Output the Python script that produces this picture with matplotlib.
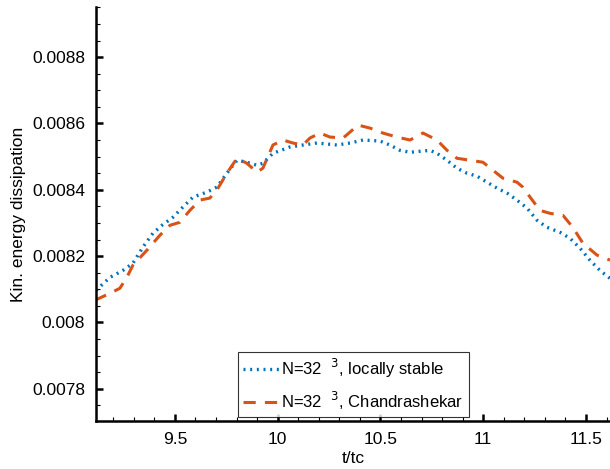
import matplotlib
matplotlib.use("Agg")
import matplotlib.pyplot as plt
from matplotlib.ticker import MultipleLocator, FixedLocator

plt.rcParams['font.family'] = ['Liberation Sans', 'DejaVu Sans']

# Locally stable scheme
t_stable = [9.116, 9.184, 9.247, 9.296, 9.344, 9.393, 9.437, 9.490, 9.539, 9.588,
            9.656, 9.704, 9.753, 9.802, 9.850, 9.899, 9.928, 9.977, 10.060, 10.123,
            10.191, 10.288, 10.352, 10.415, 10.498, 10.546, 10.595, 10.644, 10.692, 10.741,
            10.775, 10.824, 10.872, 10.921, 10.970, 11.018, 11.067, 11.116, 11.164, 11.213,
            11.262, 11.310, 11.373, 11.422, 11.471, 11.519, 11.568, 11.617]
eps_stable = [0.008097, 0.008136, 0.008157, 0.008179, 0.008227, 0.008269, 0.008293, 0.008317,
              0.008348, 0.008378, 0.008393, 0.008408, 0.008450, 0.008489, 0.008483, 0.008474,
              0.008480, 0.008510, 0.008529, 0.008535, 0.008541, 0.008535, 0.008541, 0.008550,
              0.008547, 0.008535, 0.008519, 0.008513, 0.008516, 0.008519, 0.008510, 0.008489,
              0.008465, 0.008450, 0.008441, 0.008423, 0.008405, 0.008390, 0.008369, 0.008345,
              0.008308, 0.008287, 0.008272, 0.008254, 0.008224, 0.008188, 0.008157, 0.008133]

# Chandrashekar scheme
t_chandra = [9.111, 9.184, 9.232, 9.266, 9.296, 9.364, 9.427, 9.476, 9.524, 9.573,
             9.622, 9.670, 9.704, 9.753, 9.802, 9.850, 9.899, 9.928, 9.977, 10.026,
             10.074, 10.123, 10.157, 10.206, 10.254, 10.318, 10.352, 10.391, 10.449, 10.512,
             10.580, 10.644, 10.707, 10.775, 10.824, 10.872, 10.936, 10.999, 11.047, 11.096,
             11.164, 11.193, 11.228, 11.276, 11.325, 11.388, 11.436, 11.485, 11.554, 11.617]
eps_chandra = [0.008067, 0.008088, 0.008103, 0.008136, 0.008173, 0.008218, 0.008263, 0.008293,
               0.008302, 0.008338, 0.008369, 0.008375, 0.008399, 0.008450, 0.008495, 0.008480,
               0.008453, 0.008465, 0.008535, 0.008550, 0.008541, 0.008535, 0.008556, 0.008571,
               0.008559, 0.008556, 0.008574, 0.008595, 0.008586, 0.008571, 0.008559, 0.008550,
               0.008571, 0.008550, 0.008519, 0.008495, 0.008489, 0.008483, 0.008459, 0.008435,
               0.008423, 0.008408, 0.008378, 0.008338, 0.008329, 0.008323, 0.008287, 0.008239,
               0.008203, 0.008188]

x_ticks = [9.5, 10, 10.5, 11, 11.5]
x_tick_labels = ['9.5', '10', '10.5', '11', '11.5']
y_ticks = [0.0078, 0.008, 0.0082, 0.0084, 0.0086, 0.0088]
y_tick_labels = ['0.0078', '0.008', '0.0082', '0.0084', '0.0086', '0.0088']

fig = plt.figure(figsize=(6.10, 4.69), dpi=100)
ax = fig.add_axes([96 / 610, 48 / 469, 1 - 96 / 610, (421 - 7) / 469])

ax.plot(t_stable, eps_stable, linestyle=(0, (0.6, 1.4)), color='#0072BD', lw=2.4,
        label='N=32  $^{3}$, locally stable')
ax.plot(t_chandra, eps_chandra, linestyle=(0, (4, 3)), color='#D95319', lw=2.2,
        label='N=32  $^{3}$, Chandrashekar')

ax.set_xlim(9.116, 11.617)
ax.set_ylim(0.007703, 0.008951)
ax.xaxis.set_major_locator(FixedLocator(x_ticks))
ax.set_xticklabels(x_tick_labels)
ax.yaxis.set_major_locator(FixedLocator(y_ticks))
ax.set_yticklabels(y_tick_labels)
ax.xaxis.set_minor_locator(MultipleLocator(0.1))
ax.yaxis.set_minor_locator(MultipleLocator(0.00005))

for side in ('top', 'right'):
    ax.spines[side].set_visible(False)
for side in ('left', 'bottom'):
    ax.spines[side].set_linewidth(1.8)

ax.tick_params(which='both', direction='in', colors='black', labelsize=12.5)
ax.tick_params(which='major', length=5, width=1.8, pad=8)
ax.tick_params(which='minor', length=3, width=0.8)

ax.set_xlabel('t/tc', fontsize=12.5, labelpad=3)
ax.set_ylabel('Kin. energy dissipation', fontsize=12.5, labelpad=4)

leg = ax.legend(loc='lower left', bbox_to_anchor=(238 / 610, (469 - 417) / 469),
                bbox_transform=fig.transFigure, fontsize=12, frameon=True, fancybox=False,
                handlelength=2.2, handletextpad=0.1, borderpad=0.3, labelspacing=0.6,
                borderaxespad=0)
leg.get_frame().set_edgecolor('black')
leg.get_frame().set_linewidth(0.8)

fig.savefig('out.png', dpi=100)
